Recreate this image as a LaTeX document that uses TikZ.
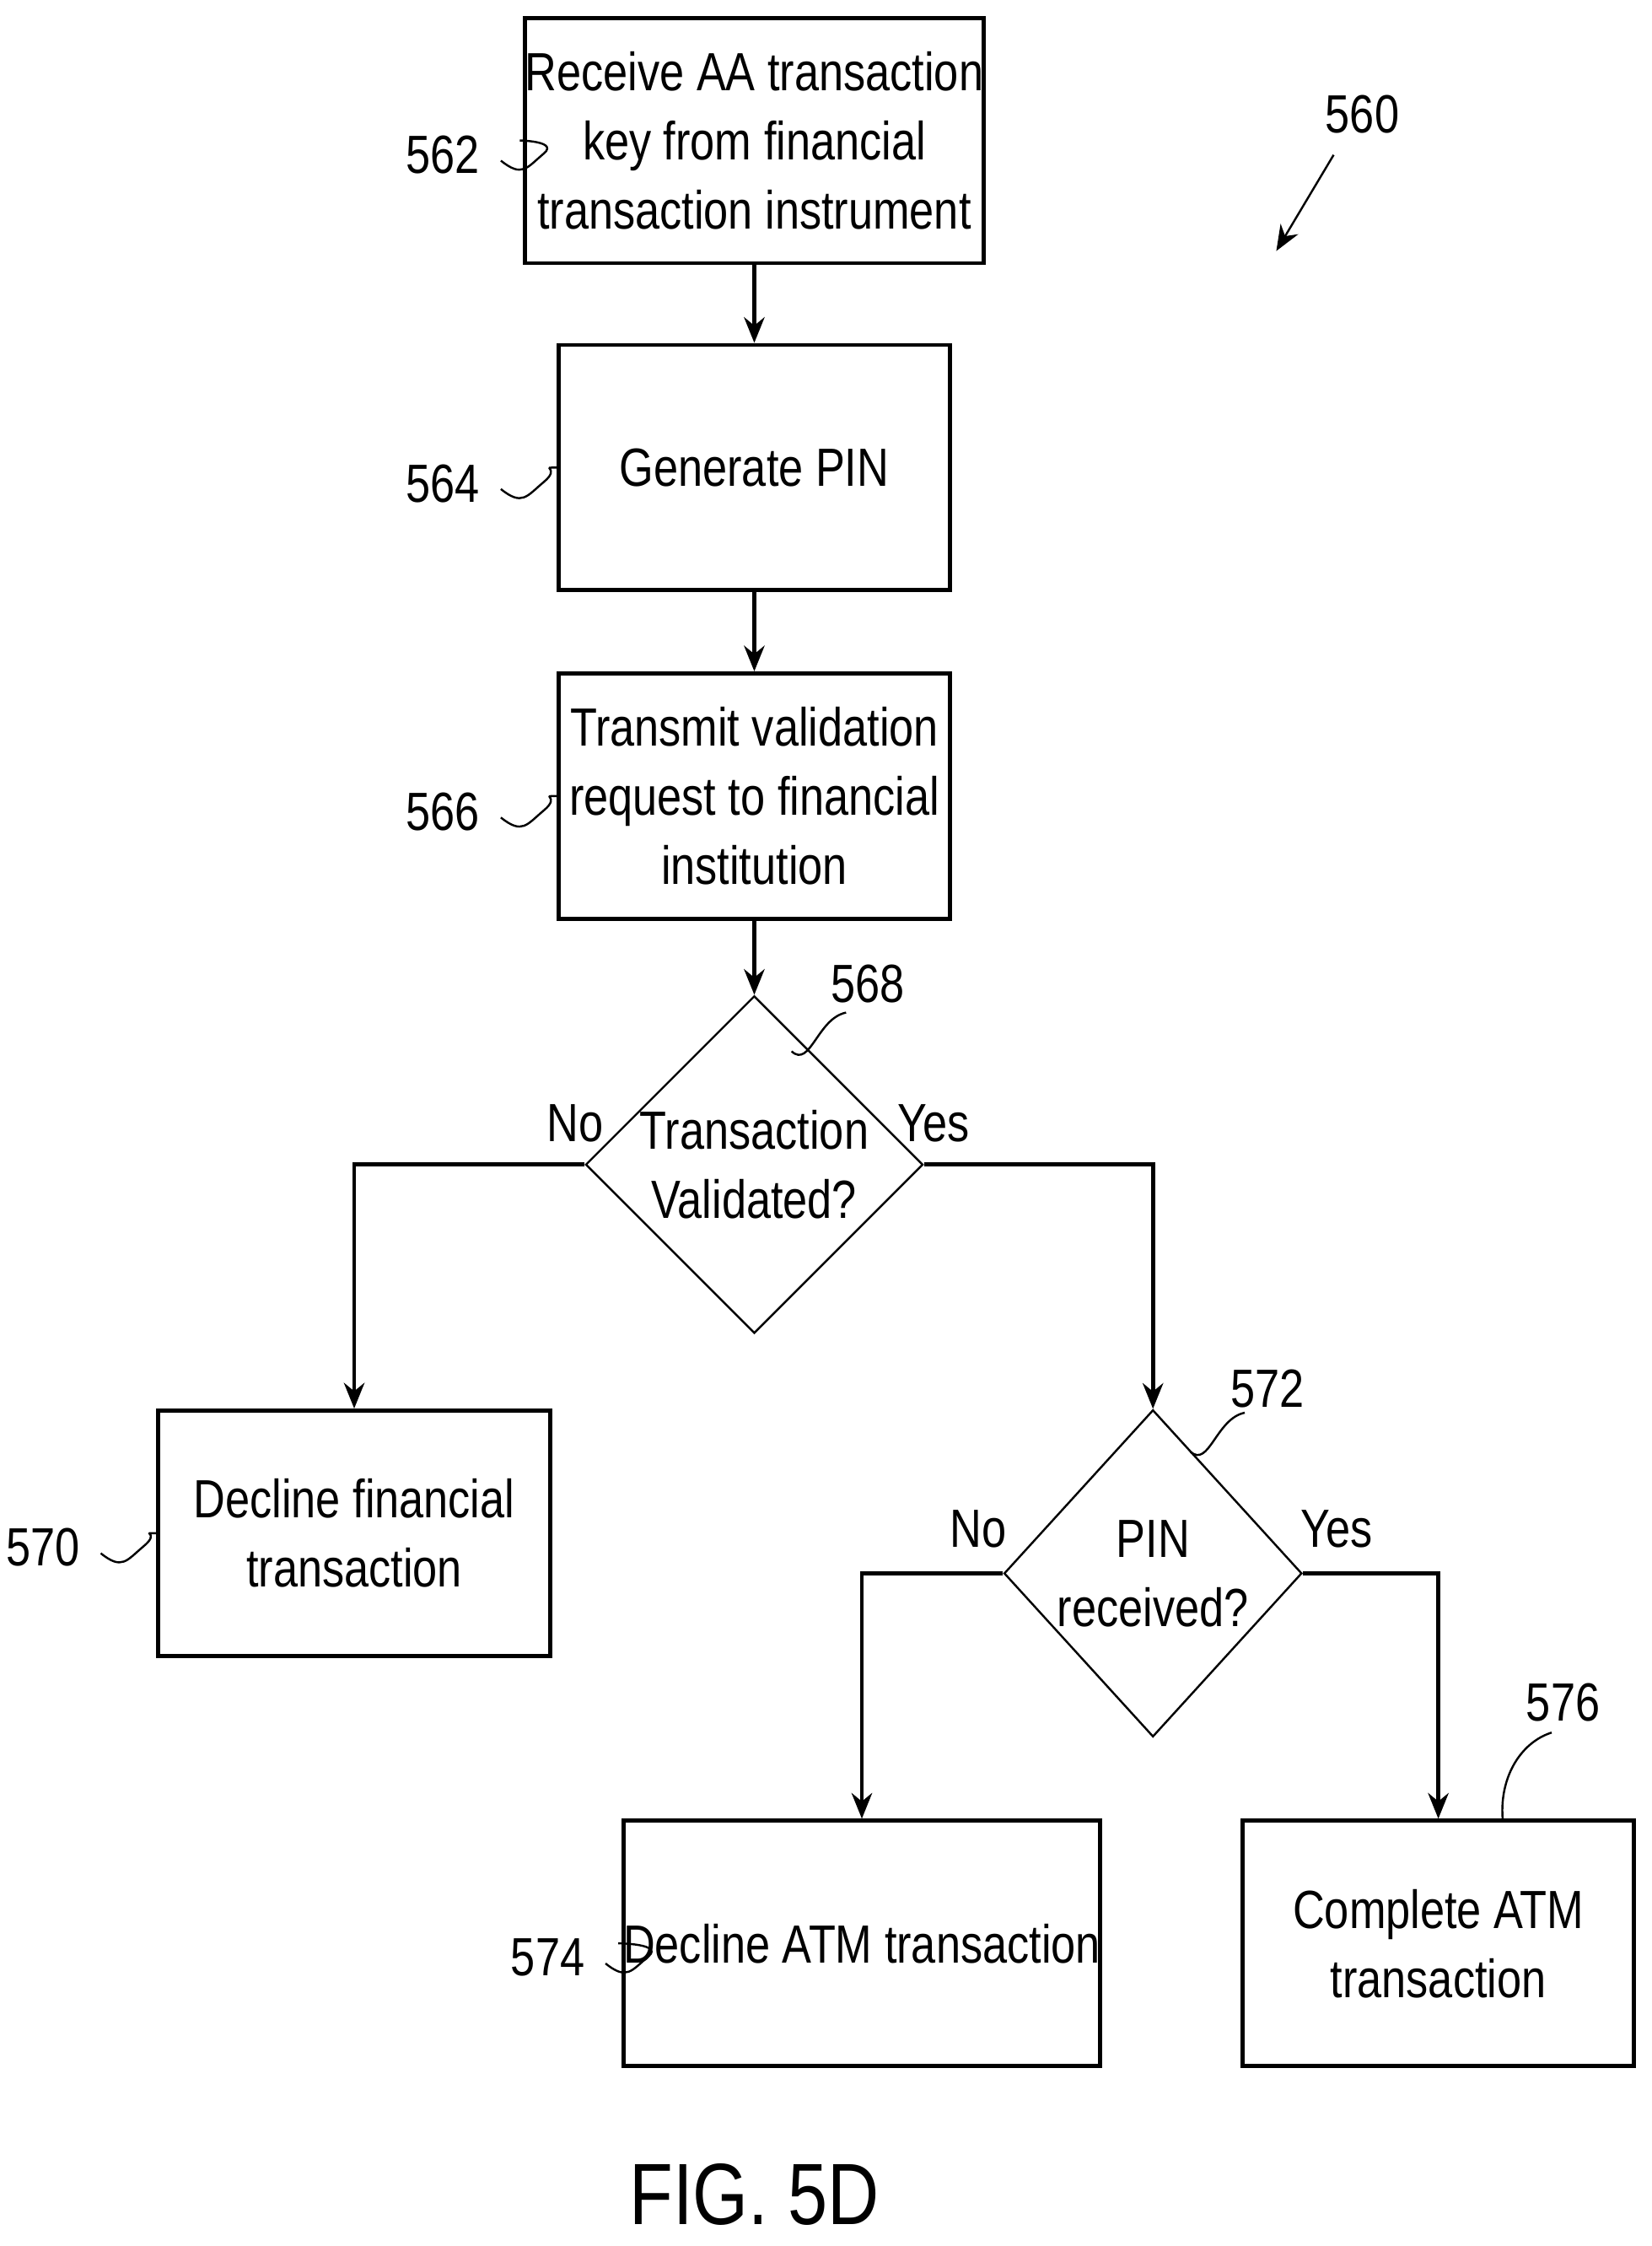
\documentclass[tikz,border=0pt]{standalone}
\usepackage{fontspec}
\setmainfont[FakeStretch=0.82]{Liberation Sans}
\usetikzlibrary{shapes.geometric,arrows.meta}

\tikzstyle{stepbox} = [draw,thick,minimum width=273*0.28pt,minimum height=171*0.28pt,inner sep=0pt,align=center,font=\fontsize{10.5}{13.5}\selectfont]
\tikzstyle{decide} = [draw,diamond,minimum width=187*0.28pt,minimum height=228*0.28pt,inner sep=0pt,align=center,font=\fontsize{10.5}{13.5}\selectfont]
\tikzstyle{flow} = [draw,thick,-{Stealth[length=5pt,width=4pt]}]
\tikzstyle{tag} = [font=\fontsize{10.5}{12}\selectfont]
\tikzstyle{wiggle} = [draw,thin]

\begin{document}
\begin{tikzpicture}[x=0.28pt,y=-0.28pt]
      \useasboundingbox (0,0) rectangle (1152,1566);
      %% steps
      \node (recv) at (526,98) [stepbox] {Receive AA transaction\\key from financial\\transaction instrument};
      \node (gen) at (526,326) [stepbox] {Generate PIN};
      \node (send) at (526,555) [stepbox] {Transmit validation\\request to financial\\institution};
      \node (valid) at (526,812) [decide] {Transaction\\Validated?};
      \node (decfin) at (247,1069) [stepbox] {Decline financial\\transaction};
      \node (pin) at (804,1097) [decide] {PIN\\received?};
      \node (decatm) at (601,1355) [stepbox] {Decline ATM transaction};
      \node (done) at (1003,1355) [stepbox] {Complete ATM\\transaction};
      %% connectors
      \path [flow] (recv) -- (gen);
      \path [flow] (gen) -- (send);
      \path [flow] (send) -- (valid);
      \path [flow] (valid.west) -| (decfin.north);
      \path [flow] (valid.east) -| (pin.north);
      \path [flow] (pin.west) -| (decatm.north);
      \path [flow] (pin.east) -| (done.north);
      \node [tag] at (401,783) {No};
      \node [tag] at (651,783) {Yes};
      \node [tag] at (682,1066) {No};
      \node [tag] at (932,1066) {Yes};
      %% reference numerals
      \foreach \num/\x/\y/\target in {562/309/108/recv, 564/309/337/gen, 566/309/566/send,
        570/30/1079/decfin, 574/382/1365/decatm}
      {
        \node (n\num) at (\x,\y) [tag] {\num};
        \path [wiggle] (n\num.east) ++(2,4) .. controls +(15,12) and +(-12,10) .. +(30,-5)
          .. controls +(12,-10) and +(-12,0) .. (\target.west);
      }
      \node (n568) at (605,686) [tag] {568};
      \path [wiggle] (552,733) .. controls (565,745) and (570,710) .. (590,706);
      \node (n572) at (884,968) [tag] {572};
      \path [wiggle] (830,1012) .. controls (843,1024) and (848,989) .. (868,985);
      \node (n576) at (1090,1187) [tag] {576};
      \path [wiggle] (1048,1270) .. controls (1045,1240) and (1060,1215) .. (1082,1208);
      \node (n560) at (950,80) [tag] {560};
      \path [flow,thin] (930,108) -- (890,175);
      \node (fig) at (526,1530) [font=\fontsize{17}{20}\selectfont] {FIG. 5D};
\end{tikzpicture}
\end{document}
